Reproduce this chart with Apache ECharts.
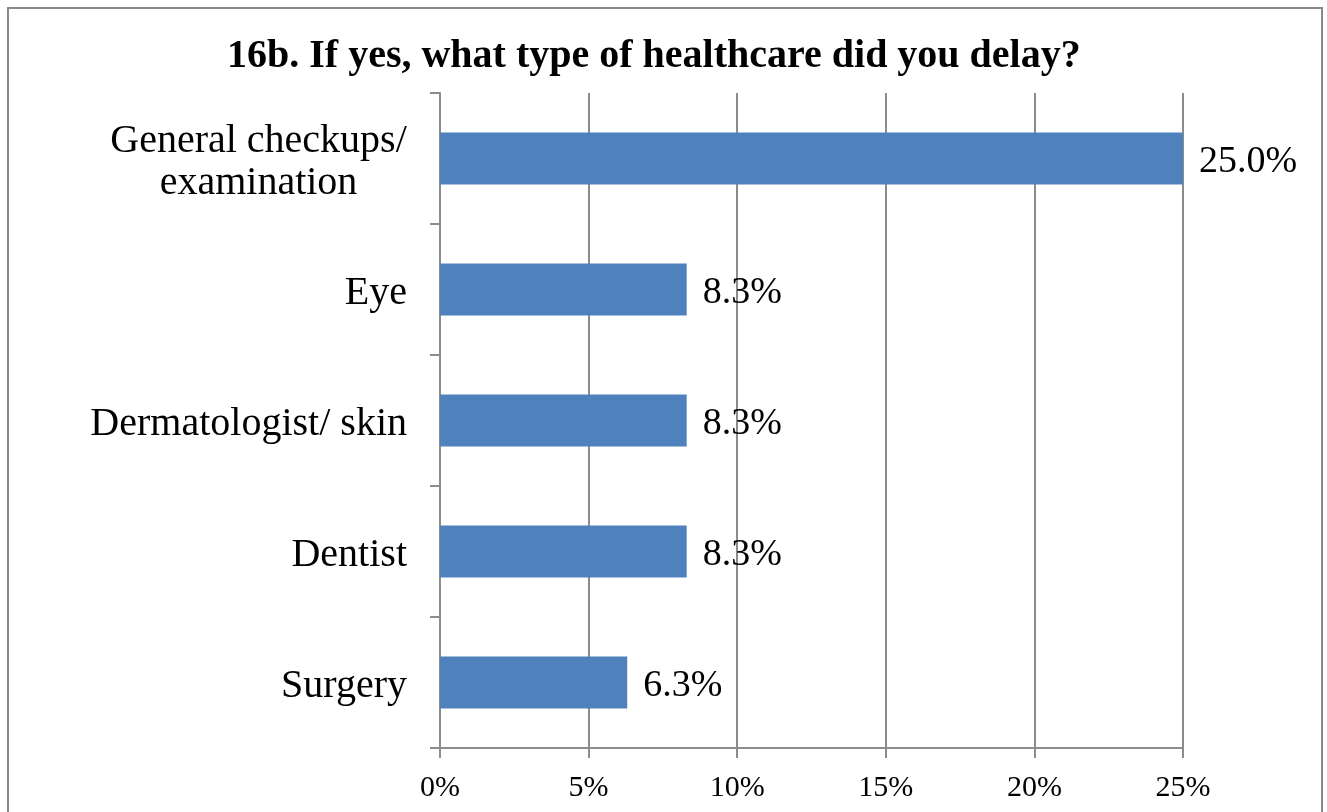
<!DOCTYPE html>
<html>
<head>
<meta charset="utf-8">
<script src="https://cdn.jsdelivr.net/npm/echarts@6/dist/echarts.min.js"></script>
<style>
html,body{margin:0;padding:0;background:#fff;}
#chart{width:1327px;height:812px;}
</style>
</head>
<body>
<div id="chart"></div>
<script>
const titleText = '16b. If yes, what type of healthcare did you delay?';
const categories = ['General checkups/\nexamination', 'Eye', 'Dermatologist/ skin', 'Dentist', 'Surgery'];
const values = [25.0, 8.3, 8.3, 8.3, 6.3];
const xTicks = [0, 5, 10, 15, 20, 25];

const serif = '"Liberation Serif", "Times New Roman", serif';
const gridColor = '#8c8c8c';

const chart = echarts.init(document.getElementById('chart'));
chart.setOption({
  backgroundColor: '#fff',
  animation: false,
  title: {
    text: titleText,
    left: 222,
    top: 32,
    textStyle: { fontFamily: serif, fontSize: 40, fontWeight: 'bold', color: '#000' }
  },
  graphic: [{
    type: 'rect',
    shape: { x: 8, y: 8, width: 1314, height: 830 },
    style: { fill: 'none', stroke: '#8a8a8a', lineWidth: 2 },
    z: 100
  }],
  grid: { left: 440, right: 144, top: 93, bottom: 64, containLabel: false },
  xAxis: {
    type: 'value',
    min: xTicks[0],
    max: xTicks[xTicks.length - 1],
    interval: 5,
    axisLine: { show: true, lineStyle: { color: gridColor, width: 2 } },
    axisTick: { show: true, length: 10, lineStyle: { color: gridColor, width: 2 } },
    splitLine: { show: true, lineStyle: { color: gridColor, width: 2 } },
    axisLabel: {
      margin: 25,
      formatter: v => v + '%',
      fontFamily: serif, fontSize: 30, color: '#000'
    }
  },
  yAxis: {
    type: 'category',
    inverse: true,
    data: categories,
    axisLine: { show: true, lineStyle: { color: gridColor, width: 2 } },
    axisTick: { show: true, length: 10, alignWithLabel: false, lineStyle: { color: gridColor, width: 2 } },
    splitLine: { show: false },
    axisLabel: {
      margin: 33,
      padding: [7, 0, 0, 0],
      fontFamily: serif, fontSize: 40, color: '#000', lineHeight: 42,
      formatter: function (v) {
        if (v.indexOf('\n') >= 0) {
          return v.split('\n').map(s => '{c|' + s + '}').join('\n');
        }
        return v;
      },
      rich: {
        c: { fontFamily: serif, fontSize: 40, color: '#000', width: 297, align: 'center', lineHeight: 42 }
      }
    }
  },
  series: [{
    type: 'bar',
    data: values,
    barWidth: 52,
    itemStyle: { color: '#4f81bd' },
    label: {
      show: true,
      position: 'right',
      distance: 16,
      offset: [0, 4],
      formatter: p => p.value.toFixed(1) + '%',
      fontFamily: serif, fontSize: 38, color: '#000'
    }
  }]
});
</script>
</body>
</html>
